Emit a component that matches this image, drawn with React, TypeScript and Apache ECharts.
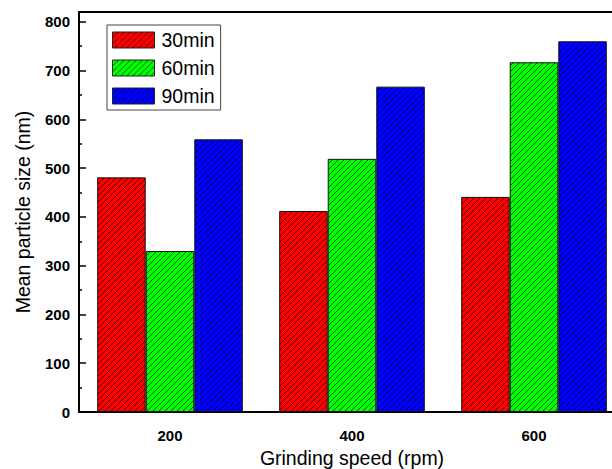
import React, { useEffect, useRef } from "react";
import * as echarts from "echarts";

const categories = ["200", "400", "600"];
const seriesNames = ["30min", "60min", "90min"];
const values30 = [481, 412, 441];
const values60 = [330, 519, 717];
const values90 = [559, 667, 760];
const colors = ["#ff0000", "#00ff00", "#0000ff"];

const FONT = "'Liberation Sans', Arial, Helvetica, sans-serif";

function makeHatch(color: string) {
  const s = 6;
  const c = document.createElement("canvas");
  c.width = s;
  c.height = s;
  const ctx = c.getContext("2d")!;
  ctx.fillStyle = color;
  ctx.fillRect(0, 0, s, s);
  ctx.strokeStyle = "rgba(0,0,0,0.6)";
  ctx.lineWidth = 1;
  ctx.beginPath();
  ctx.moveTo(-1, s + 1);
  ctx.lineTo(s + 1, -1);
  ctx.moveTo(-1, 1);
  ctx.lineTo(1, -1);
  ctx.moveTo(s - 1, s + 1);
  ctx.lineTo(s + 1, s - 1);
  ctx.stroke();
  return c;
}

export default function App() {
  const ref = useRef<HTMLDivElement>(null);
  useEffect(() => {
    if (!ref.current) return;
    const chart = echarts.init(ref.current, undefined, { renderer: "svg" });
    const allValues = [values30, values60, values90];
    chart.setOption({
      animation: false,
      backgroundColor: "#ffffff",
      textStyle: { fontFamily: FONT },
      grid: {
        left: 79,
        top: 12,
        right: -13,
        bottom: 57,
        outerBoundsMode: "none",
        containLabel: false,
        show: true,
        borderColor: "#000",
        borderWidth: 2,
        backgroundColor: "transparent",
      },
      legend: {
        orient: "vertical",
        left: 107,
        top: 25,
        icon: "rect",
        itemWidth: 42,
        itemHeight: 16,
        itemGap: 8,
        padding: [5, 6, 4, 5],
        borderColor: "#444",
        borderWidth: 1,
        itemStyle: { borderColor: "#222", borderWidth: 1 },
        textStyle: { fontSize: 19.5, color: "#000", fontFamily: FONT, padding: [0, 0, 0, 2] },
        data: seriesNames,
      },
      xAxis: [
        {
          type: "category",
          position: "bottom",
          data: categories,
          name: "Grinding speed (rpm)",
          nameLocation: "middle",
          nameGap: 34,
          nameTextStyle: { fontSize: 19.5, color: "#000", fontFamily: FONT },
          axisLine: { lineStyle: { color: "#000", width: 2 } },
          axisTick: {
            alignWithLabel: true,
            inside: true,
            length: 6,
            lineStyle: { color: "#000", width: 1.5 },
          },
          axisLabel: {
            margin: 16,
            fontSize: 15,
            fontWeight: "bold",
            color: "#000",
            fontFamily: FONT,
          },
          splitLine: { show: false },
        },
        {
          type: "category",
          position: "bottom",
          data: categories,
          axisLine: { show: false },
          axisTick: {
            alignWithLabel: false,
            inside: true,
            length: 4,
            lineStyle: { color: "#000", width: 1.5 },
          },
          axisLabel: { show: false },
          splitLine: { show: false },
        },
      ],
      yAxis: {
        type: "value",
        position: "left",
        min: 0,
        max: 820,
        interval: 100,
        name: "Mean particle size (nm)",
        nameLocation: "middle",
        nameGap: 46,
        nameTextStyle: { fontSize: 19.5, color: "#000", fontFamily: FONT },
        axisLine: { show: true, lineStyle: { color: "#000", width: 2 } },
        axisTick: {
          show: true,
          inside: true,
          length: 7,
          lineStyle: { color: "#000", width: 1.5 },
        },
        minorTick: {
          show: true,
          splitNumber: 2,
          length: 3,
          lineStyle: { color: "#000", width: 1.5 },
        },
        axisLabel: {
          margin: 9,
          fontSize: 15,
          fontWeight: "bold",
          color: "#000",
          fontFamily: FONT,
          showMaxLabel: false,
        },
        splitLine: { show: false },
      },
      series: seriesNames.map((name, i) => ({
        name,
        type: "bar",
        xAxisIndex: 0,
        yAxisIndex: 0,
        data: allValues[i],
        barGap: "0%",
        barCategoryGap: "20%",
        itemStyle: {
          color: { image: makeHatch(colors[i]), repeat: "repeat" },
          borderColor: "#111",
          borderWidth: 1,
        },
      })),
    });
    return () => chart.dispose();
  }, []);
  return (
    <div
      ref={ref}
      style={{ position: "fixed", left: 0, top: 0, width: 612, height: 469, background: "#fff" }}
    />
  );
}
